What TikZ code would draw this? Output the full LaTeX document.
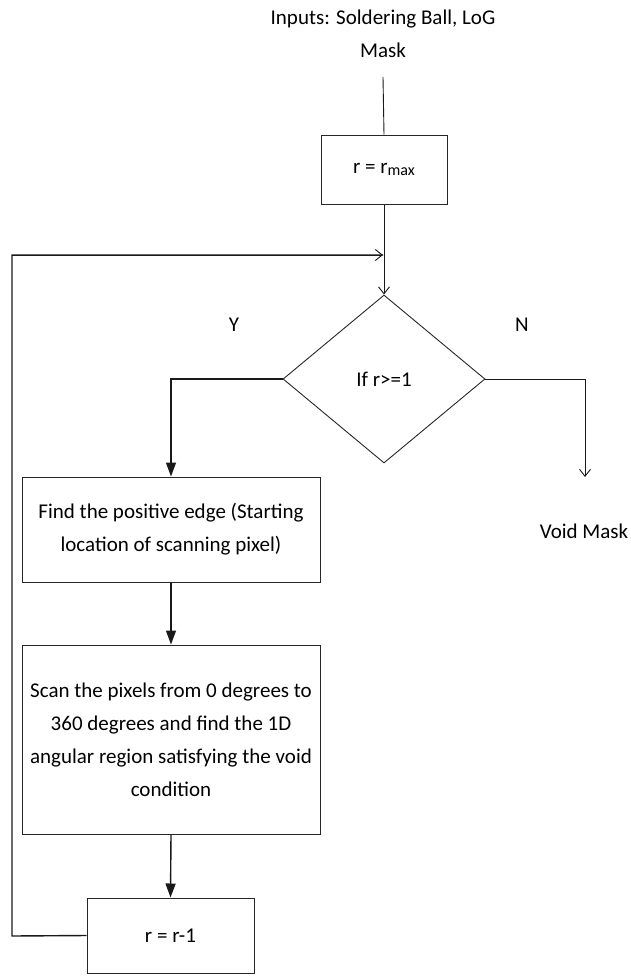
\documentclass[tikz,border=0pt]{standalone}
\usepackage{fontspec}
\setmainfont{Carlito}
\usetikzlibrary{shapes.geometric,arrows.meta}
\tikzset{
  txt/.style={font=\fontsize{21}{33}\selectfont, align=center, inner sep=0pt},
  procbox/.style={draw=black!85, line width=1pt, rectangle, txt},
  decbox/.style={draw=black!85, line width=0.9pt, diamond, inner sep=0pt, font=\fontsize{21}{25}\selectfont},
  thinline/.style={line width=0.9pt, black!90},
  boldline/.style={line width=1.4pt, black!90},
  openarr/.style={-{Straight Barb[length=7pt,width=11pt,line width=0.9pt]}},
  fillarr/.style={-{Triangle[length=14pt,width=10pt]}}
}
\begin{document}
\begin{tikzpicture}[x=1pt,y=-1pt]
\useasboundingbox (0,0) rectangle (631,977);
\node[txt] (inp) at (383,34) {Inputs: Soldering Ball, LoG\\Mask};
\coordinate (intop) at (383,77);
\node[procbox, minimum width=126pt, minimum height=69pt] (rmax) at (384,169.5) {r = r{\fontsize{16}{16}\selectfont\raisebox{-1.5pt}{max}}};
\coordinate (join) at (383,255);
\node[decbox, minimum width=202pt, minimum height=168pt] (dec) at (384,379) {If r>=1};
\node[txt] (ylab) at (234,325) {Y};
\node[txt] (nlab) at (522,325) {N};
\node[procbox, minimum width=298pt, minimum height=105pt] (find) at (171,529.5) {Find the positive edge (Starting\\location of scanning pixel)};
\node[procbox, minimum width=298pt, minimum height=189pt] (scan) at (171,739.5) {Scan the pixels from 0 degrees to\\360 degrees and find the 1D\\angular region satisfying the void\\condition};
\node[procbox, minimum width=167pt, minimum height=75pt] (dec1) at (170.5,935.5) {r = r-1};
\node[txt] (void) at (584,531) {Void Mask};
\coordinate (voidtip) at (585,477);
\coordinate (loopb) at (12,936);
\coordinate (loopt) at (12,255);
% connectors
\draw[thinline] (intop) -- (rmax.north);
\draw[thinline, openarr] (rmax.south) -- (dec.north);
\draw[boldline] (dec1.west) -- (loopb) -- (loopt) -- (join);
\draw[thinline, openarr] (loopt) -- (join);
\draw[boldline, fillarr] (dec.west) -| (find.north);
\draw[thinline, openarr] (dec.east) -| (voidtip);
\draw[boldline, fillarr] (find.south) -- (scan.north);
\draw[boldline, fillarr] (scan.south) -- (dec1.north);
\end{tikzpicture}
\end{document}
